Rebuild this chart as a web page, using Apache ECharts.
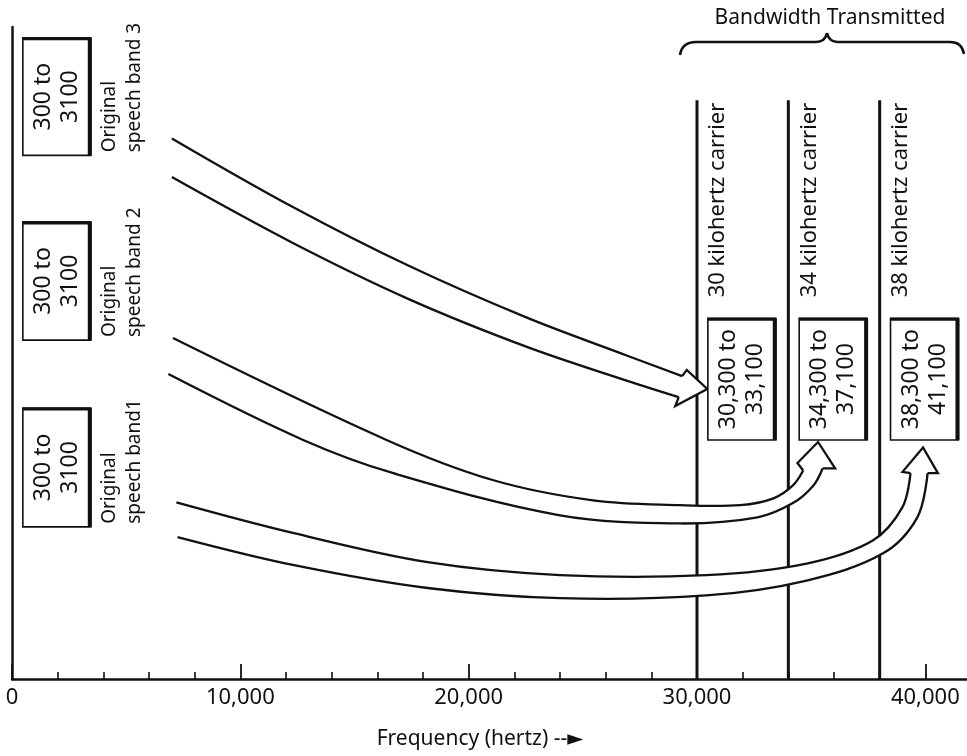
<!DOCTYPE html>
<html>
<head>
<meta charset="utf-8">
<script src="https://cdn.jsdelivr.net/npm/echarts@6/dist/echarts.min.js"></script>
<style>
  html, body { margin: 0; padding: 0; background: #fff; }
  #chart { width: 967px; height: 756px; }
</style>
</head>
<body>
<div id="chart"></div>
<script>
// carrier frequencies and the shifted bands they carry (Hz)
const carriers = [30000, 34000, 38000]
const carrierLabels = ['30 kilohertz carrier', '34 kilohertz carrier', '38 kilohertz carrier']
const bandLow = [30300, 34300, 38300]
const bandHigh = [33100, 37100, 41100]

// original speech band (Hz), one per channel
const speechBand = [300, 3100]
const speechLabels = ['Original\nspeech band1', 'Original\nspeech band 2', 'Original\nspeech band 3']

// arrow outlines, [frequency, height on the drawing scale]
const arrow1Upper = [[7200, 30.0], [12300, 25.5], [18200, 21.2], [24000, 19.3], [30400, 19.3], [34800, 21.0], [37700, 24.4], [39000, 29.3], [39350, 34.3]]
const arrow1Lower = [[7250, 24.9], [12300, 20.8], [18200, 17.4], [24000, 15.9], [30400, 16.3], [34800, 18.5], [38150, 22.5], [39650, 27.8], [40100, 34.3]]
const arrow1Head = [[39000, 34.5], [39900, 38.1], [40550, 34.3]]

const arrow2Upper = [[7050, 54.2], [16400, 39.2], [21050, 33.3], [25450, 30.3], [29250, 29.6], [31900, 29.6], [33350, 30.6], [34200, 32.5], [34650, 34.7]]
const arrow2Lower = [[6850, 48.9], [12750, 39.2], [16700, 34.3], [24000, 28.1], [29250, 26.9], [32650, 27.8], [34200, 29.9], [35100, 32.5], [35500, 35.0]]
const arrow2Head = [[34400, 35.8], [35300, 38.9], [36050, 35.0]]

const arrow3Upper = [[7000, 83.6], [12300, 73.5], [17400, 64.8], [22550, 57.2], [26950, 51.6], [29350, 48.6]]
const arrow3Lower = [[7000, 77.9], [12300, 68.2], [17400, 59.9], [22550, 52.9], [26950, 47.9], [29200, 45.5]]
const arrow3Head = [[29550, 49.5], [30450, 46.7], [29050, 44.2]]

const arrows = [
    {upper: arrow1Upper, lower: arrow1Lower, head: arrow1Head},
    {upper: arrow2Upper, lower: arrow2Lower, head: arrow2Head},
    {upper: arrow3Upper, lower: arrow3Lower, head: arrow3Head},
]

const INK = '#111'
const FONT = '"Noto Sans", "DejaVu Sans", sans-serif'
const Y_MIN = 4
const fmt = (v) => v.toLocaleString('en-US')

// draws a box with the heavier top/right edges seen in the print
const boxShape = (x0, y0, x1, y1) => [
    {type: 'rect', shape: {x: x0, y: y0, width: x1 - x0, height: y1 - y0}, style: {fill: '#fff', stroke: INK, lineWidth: 1.6}},
    {type: 'line', shape: {x1: x0, y1: y0 + 1, x2: x1, y2: y0 + 1}, style: {stroke: INK, lineWidth: 3}},
    {type: 'line', shape: {x1: x1 - 1, y1: y0, x2: x1 - 1, y2: y1}, style: {stroke: INK, lineWidth: 4}},
]

const vText = (x, y, text, size, align, lineHeight) => ({
    type: 'text',
    x: x,
    y: y,
    rotation: Math.PI / 2,
    style: {
        text: text,
        fill: INK,
        font: size + 'px ' + FONT,
        align: align,
        verticalAlign: 'middle',
        lineHeight: lineHeight,
    },
})

const braceStyle = {fill: null, stroke: INK, lineWidth: 2.5}
const curve = (x1, y1, cx, cy, x2, y2) => ({type: 'bezierCurve', shape: {x1: x1, y1: y1, cpx1: cx, cpy1: cy, x2: x2, y2: y2}, style: braceStyle})
const seg = (x1, y1, x2, y2) => ({type: 'line', shape: {x1: x1, y1: y1, x2: x2, y2: y2}, style: braceStyle})

const myChart = echarts.init(document.getElementById('chart'))

const option = {
    animation: false,
    backgroundColor: '#fff',
    grid: {left: 12, right: -4, top: 27, bottom: 77, containLabel: false, outerBoundsMode: 'none'},
    xAxis: {
        type: 'value',
        min: 0,
        max: 42000,
        interval: 10000,
        axisLine: {lineStyle: {color: INK, width: 2.5}},
        axisTick: {inside: true, length: 15, lineStyle: {color: INK, width: 1.8}},
        minorTick: {show: true, splitNumber: 5, length: 7, lineStyle: {color: INK, width: 1.6}},
        splitLine: {show: false},
        axisLabel: {
            color: INK,
            fontSize: 22,
            fontFamily: FONT,
            margin: 8,
            formatter: (v) => fmt(v),
        },
    },
    yAxis: {
        type: 'value',
        min: Y_MIN,
        max: 100,
        axisLine: {show: true, lineStyle: {color: INK, width: 2.5}},
        axisTick: {show: false},
        axisLabel: {show: false},
        splitLine: {show: false},
    },
    graphic: [
        {
            type: 'text',
            x: 830,
            y: 18,
            style: {text: 'Bandwidth Transmitted', fill: INK, font: '21px ' + FONT, align: 'center', verticalAlign: 'middle'},
        },
        {
            type: 'group',
            children: [
                curve(680, 55, 682, 42, 696, 42),
                seg(696, 42, 816, 42),
                curve(816, 42, 825, 42, 827, 33),
                curve(827, 33, 829, 42, 838, 42),
                seg(838, 42, 950, 42),
                curve(950, 42, 962, 42, 964, 54),
            ],
        },
        {
            type: 'text',
            x: 480,
            y: 739,
            style: {text: 'Frequency (hertz) --\u25BA', fill: INK, font: '21px ' + FONT, align: 'center', verticalAlign: 'middle'},
        },
    ],
    series: [
        {
            // carrier lines with their labels
            type: 'custom',
            z: 2,
            data: carriers.map((c, i) => [c, i]),
            renderItem: (params, api) => {
                const c = api.value(0)
                const base = api.coord([c, Y_MIN])
                const top = api.coord([c, 89.2])
                const labelBottom = api.coord([c, 60.2])
                return {
                    type: 'group',
                    children: [
                        {type: 'line', shape: {x1: base[0], y1: base[1], x2: top[0], y2: top[1]}, style: {stroke: INK, lineWidth: 3}},
                        vText(base[0] + 21, labelBottom[1], carrierLabels[params.dataIndex], 22, 'left', 26),
                    ],
                }
            },
        },
        {
            // translation arrows, white filled so they hide the carrier lines
            type: 'custom',
            z: 3,
            data: arrows.map((a) => a.upper[0]),
            renderItem: (params, api) => {
                const a = arrows[params.dataIndex]
                const up = a.upper.map((p) => api.coord(p))
                const lo = a.lower.map((p) => api.coord(p))
                const hd = a.head.map((p) => api.coord(p))
                const headPts = [up[up.length - 1]].concat(hd, [lo[lo.length - 1]])
                const lineStyle = {fill: null, stroke: INK, lineWidth: 2.3}
                return {
                    type: 'group',
                    children: [
                        {type: 'polygon', shape: {points: up.concat(lo.slice().reverse()), smooth: 0.35}, style: {fill: '#fff', stroke: null}},
                        {type: 'polygon', shape: {points: headPts}, style: {fill: '#fff', stroke: null}},
                        {type: 'polyline', shape: {points: up, smooth: 0.35}, style: lineStyle},
                        {type: 'polyline', shape: {points: lo, smooth: 0.35}, style: lineStyle},
                        {type: 'polyline', shape: {points: headPts}, style: lineStyle},
                    ],
                }
            },
        },
        {
            // shifted band boxes
            type: 'custom',
            z: 4,
            data: bandLow.map((l, i) => [l, bandHigh[i]]),
            renderItem: (params, api) => {
                const lo = api.value(0)
                const hi = api.value(1)
                const p0 = api.coord([lo, 57.1])
                const p1 = api.coord([hi, 39.2])
                const x0 = p0[0] + 4
                const x1 = p1[0] + 8
                return {
                    type: 'group',
                    children: boxShape(x0, p0[1], x1, p1[1]).concat([
                        vText((x0 + x1) / 2, (p0[1] + p1[1]) / 2, fmt(lo) + ' to\n' + fmt(hi), 23, 'center', 27),
                    ]),
                }
            },
        },
        {
            // original speech bands at the left
            type: 'custom',
            z: 4,
            data: speechLabels.map(() => speechBand.slice()),
            renderItem: (params, api) => {
                const levels = [[43.9, 26.4], [71.3, 53.9], [98.4, 81.1]][params.dataIndex]
                const lo = api.value(0)
                const hi = api.value(1)
                const p0 = api.coord([lo, levels[0]])
                const p1 = api.coord([hi, levels[1]])
                const x0 = p0[0] + 4
                const x1 = p1[0] + 8
                return {
                    type: 'group',
                    children: boxShape(x0, p0[1], x1, p1[1]).concat([
                        vText((x0 + x1) / 2, (p0[1] + p1[1]) / 2, fmt(lo) + ' to\n' + hi, 23, 'center', 27),
                        vText(x1 + 31, p1[1] - 3, speechLabels[params.dataIndex], 19, 'left', 25),
                    ]),
                }
            },
        },
    ],
}

myChart.setOption(option)
</script>
</body>
</html>
